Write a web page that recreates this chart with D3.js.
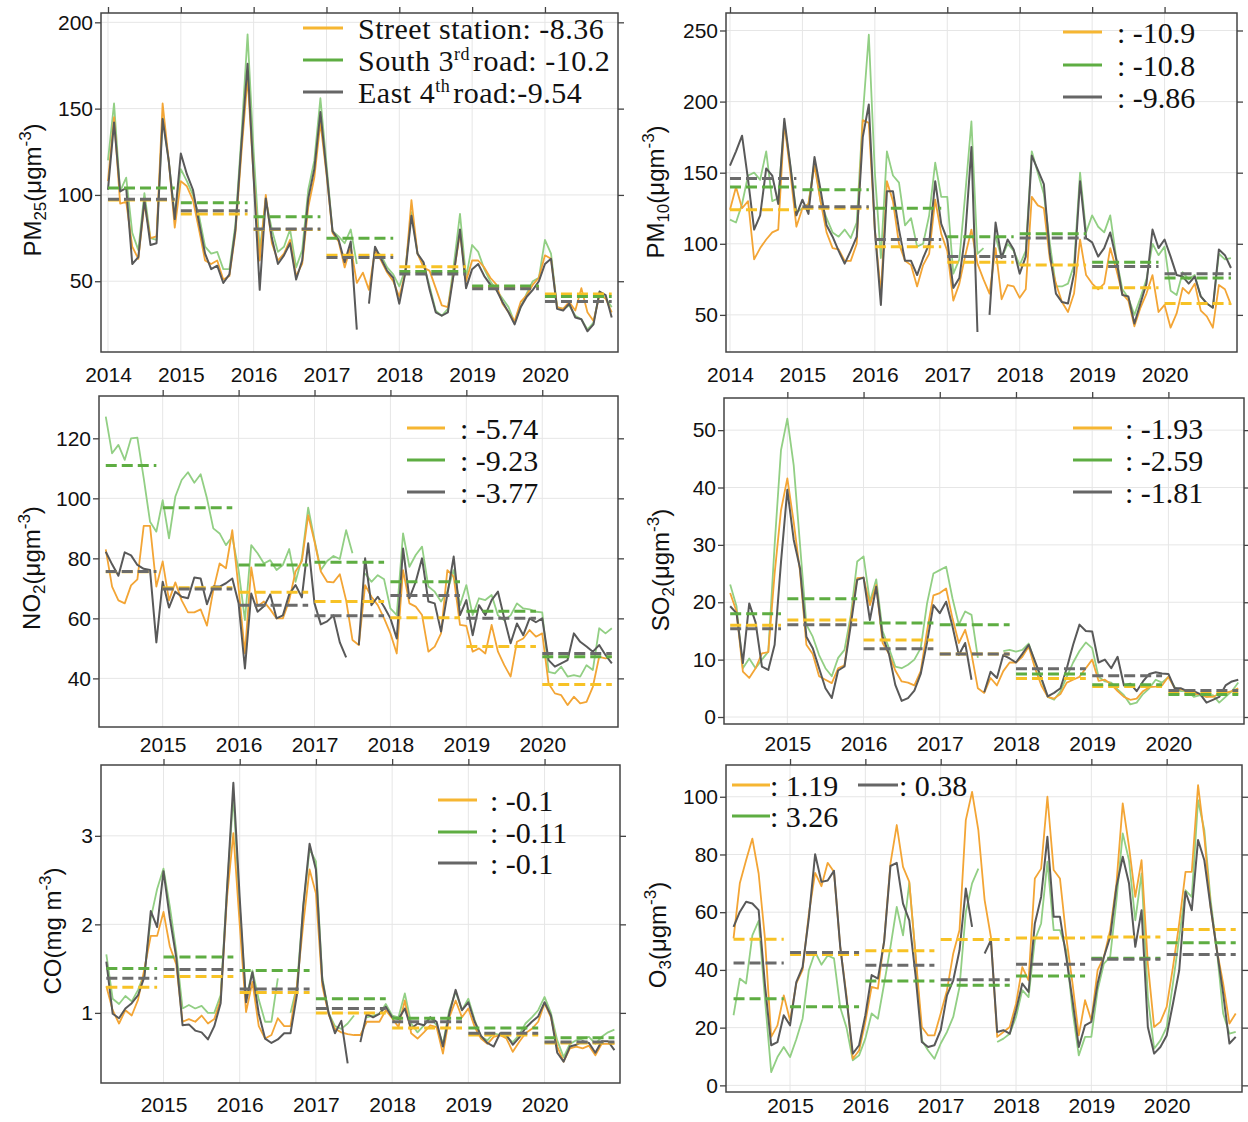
<!DOCTYPE html>
<html>
<head>
<meta charset="utf-8">
<script src="https://cdn.jsdelivr.net/npm/d3@7"></script>
<style>
body { margin: 0; background: #ffffff; }
svg { display: block; }
</style>
</head>
<body>
<script>
const width = 1248;
const height = 1122;

// x axis years (tick labels)
const yearsAll = [2014, 2015, 2016, 2017, 2018, 2019, 2020];
const yearsLate = [2015, 2016, 2017, 2018, 2019, 2020];
// PM2.5 / PM10 series start Jan 2014, the others start Apr 2014
const startJan = 2014;
const startApr = 2014 + 3 / 12;

// ---------------- PM2.5 (monthly, Jan 2014 - Dec 2020) ----------------
const pm25Street = [
  108, 145, 95, 96, 70, 63, 95, 75, 76, 153, 120, 81,
  108, 105, 97, 80, 62, 60, 62, 51, 53, 78, 125, 168,
  110, 62, 100, 72, 62, 66, 74, 53, 60, 93, 110, 142,
  112, 78, 73, 58, 70, 49, 55, 45, 68, 62, 55, 50,
  41, 55, 97, 66, 58, 56, 46, 36, 35, 55, 78, 50,
  62, 62, 58, 52, 48, 37, 32, 27, 38, 42, 48, 52,
  65, 63, 35, 34, 38, 33, 46, 32, 27, 42, 40, 32];
const pm25South = [
  120, 153, 102, 110, 78, 68, 101, 75, 74, 145, 120, 88,
  115, 108, 100, 88, 70, 66, 67, 57, 57, 83, 135, 193,
  125, 68, 97, 80, 67, 70, 80, 58, 68, 103, 120, 156,
  118, 79, 76, 72, 80, 60, null, null, 68, 65, 58, 54,
  47, 57, 90, 66, 60, 47, 33, 30, 34, 60, 89, 52,
  71, 67, 57, 50, 45, 40, 35, 26, 35, 43, 50, 52,
  74, 66, 35, 34, 36, 30, 28, 22, 26, 44, 40, 35];
const pm25East = [
  103, 142, 102, 104, 60, 64, 97, 71, 72, 144, 120, 86,
  124, 112, 103, 84, 66, 57, 59, 49, 54, 80, 130, 176,
  110, 45, 98, 75, 60, 65, 72, 51, 62, 98, 115, 148,
  114, 79, 74, 61, 73, 22, null, 37, 70, 63, 56, 52,
  37, 55, 88, 66, 61, 45, 32, 30, 32, 55, 80, 46,
  57, 60, 53, 48, 45, 38, 32, 25, 35, 41, 45, 50,
  60, 63, 34, 33, 37, 29, 28, 21, 25, 44, 42, 29];
const pm25MeanStreet = [97, 89, 80, 65, 58.4, 47, 42.6];
const pm25MeanSouth = [104, 95.5, 87.4, 74.9, 55.6, 47.3, 41.1];
const pm25MeanEast = [97.5, 90.9, 80.3, 63.7, 54.2, 45.7, 38.2];
const pm25Legend = ["Street station: -8.36", "South 3rd road: -10.2", "East 4th road:-9.54"];

// ---------------- PM10 (monthly, Jan 2014 - Dec 2020) ----------------
const pm10Street = [
  124, 140, 125, 130, 89, 97, 103, 108, 110, 185, 150, 112,
  125, 128, 155, 130, 108, 97, 96, 88, 88, 100, 187, 185,
  110, 65, 144, 130, 100, 88, 85, 70, 85, 93, 131, 107,
  95, 60, 72, 92, 110, 86, 75, 65, 97, 61, 71, 70,
  62, 68, 133, 127, 125, 89, 72, 59, 52, 65, 103, 78,
  72, 68, 72, 97, 82, 65, 60, 42, 55, 65, 78, 52,
  57, 41, 51, 69, 65, 72, 53, 49, 41, 71, 68, 57];
const pm10South = [
  117, 115, 128, 148, 150, 145, 165, 130, 132, 185, 155, 122,
  125, 128, 158, 130, 118, 108, 105, 110, 104, 115, 190, 247,
  150, 90, 165, 148, 143, 113, 118, 98, 100, 120, 157, 133,
  133, 79, 89, 136, 186, 93, 97, null, 105, 90, 100, 95,
  85, 95, 165, 150, 135, 100, 70, 70, 72, 85, 150, 108,
  120, 112, 108, 120, 90, 68, 62, 50, 62, 75, 100, 92,
  98, 67, 64, 80, 75, 78, 63, 58, 55, 93, 89, 90];
const pm10East = [
  155, 165, 176, 145, 110, 120, 153, 148, 128, 188, 155, 120,
  131, 121, 161, 138, 113, 105, 95, 86, 95, 105, 175, 198,
  110, 57, 137, 137, 110, 88, 88, 78, 90, 100, 144, 114,
  103, 69, 76, 107, 168, 38, null, 50, 115, 90, 103, 96,
  79, 91, 162, 152, 142, 93, 65, 59, 58, 79, 144, 104,
  101, 91, 97, 108, 89, 64, 63, 44, 58, 72, 110, 97,
  103, 91, 78, 77, 72, 77, 63, 58, 55, 96, 92, 83];
const pm10MeanStreet = [124, 125, 98, 87, 85, 69, 58];
const pm10MeanSouth = [140, 138, 125, 105, 107, 87, 76];
const pm10MeanEast = [146, 126, 103, 91, 104, 84, 79];
const pm10Legend = [": -10.9", ": -10.8", ": -9.86"];

// ---------------- NO2 (monthly, Apr 2014 - Dec 2020) ----------------
const no2Street = [
  83, 70.6, 66, 65, 71, 73, 90.8, 90.8, 70.6,
  79, 66, 72, 66, 62, 62, 63, 57.6, 69.4, 78.3, 76.7, 89.4,
  70, 48.3, 77, 64, 65.6, 63, 60, 60, 66, 75.6, 79, 94.4,
  85.6, 75.6, 72.2, 72, 74.7, 66, 52.8, 51.1, 71.1, 67.2, 64.4, 60,
  55, 48.3, 76.1, 65, 63.9, 61.1, 48.9, 50.6, 55, 76.1, 73.9, 57.8,
  57.5, 48.9, 50, 48.3, 57.8, 48.9, 44.4, 40.6, 52.2, 53.3, 56.1, 53.9,
  55, 38.3, 35, 34.4, 31.1, 33.9, 31.7, 32.2, 37.2, 47.2, 46.7, 47.2];
const no2South = [
  127.2, 115, 117.8, 112.8, 120, 120.2, 106.7, 92.2, 88.9,
  99.4, 86.7, 100.6, 106.1, 108.7, 105.2, 108, 100, 90, 88.3, 84.4, 87.2,
  76, 59.4, 84.4, 81.7, 78.3, 79.4, 76.1, 77.8, 83.1, 72.2, 80, 96.9,
  86.1, 76.1, 79.1, 80.8, 79.8, 89.4, 81.7, null, 75, 72.2, 74.4, 73,
  63.3, 61.1, 88.3, 77.2, 81.1, 83.9, 70.6, 68.9, 65.6, 69, 76.1, 64.4,
  71.1, 61.1, 66.7, 66.1, 67.8, 61, 59.4, 61, 65, 63.3, 63, 62.2,
  62, 42.2, 41.7, 43.9, 40.6, 41.1, 40.6, 44.4, 42.8, 56.7, 55, 56.7];
const no2East = [
  82.2, 78, 74.2, 82, 81, 77.8, 76.5, 76.1, 52,
  72.2, 63.6, 68.9, 67.2, 66.7, 73.6, 73.3, 64.7, 70.6, 70.6, 71.7, 73.3,
  65, 43.3, 68.3, 62.2, 64, 68, 60, 61, 68, 71.1, 67, 85,
  65, 58, 59, 61, 52, 47, null, 51.1, 80, 64.4, 67.2, 63.9,
  60, 53.3, 83.3, 66.7, 72.2, 80, 65.6, 65, 55.6, 68, 80.6, 61.1,
  66.1, 54.4, 64.4, 61.1, 66.1, 68.9, 60, 51.7, 58.3, 54.4, 60, 58.7,
  60, 46.1, 43.9, 45, 46.1, 55, 52.2, 50.6, 48.9, 51.1, 47.8, 45];
const no2MeanStreet = [75.5, 70.2, 68.7, 65.6, 60.2, 50.6, 38];
const no2MeanSouth = [110.9, 96.9, 77.8, 78.7, 72.2, 62.4, 47.2];
const no2MeanEast = [75.6, 69.8, 64.4, 60.9, 67.6, 60, 48.3];
const no2Legend = [": -5.74", ": -9.23", ": -3.77"];

// ---------------- SO2 (monthly, Apr 2014 - Dec 2020) ----------------
const so2Street = [
  21.6, 18.4, 7.9, 6.8, 8.5, 11.1, 11.3, 25, 36,
  41.6, 34, 25.3, 12.6, 11, 7.1, 6.5, 5.9, 8.5, 9, 17.2, 24.2,
  24.3, 19.5, 23, 12.9, 11, 8.1, 6.2, 6, 5.5, 8, 15, 21.2,
  21.6, 22.4, 17.2, 12.9, 15.2, 11, 5, 4.2, 6.8, 5.5, 8, 9.5,
  9.5, 10.5, 12.3, 8.5, 5.5, 3.5, 3.2, 4, 6, 6.5, 7, 8.5,
  10, 6.3, 6.5, 5.7, 4.5, 3.5, 3, 3.2, 4.5, 5.2, 5.3, 5.5,
  7, 5, 4.8, 4.5, 4, 4, 3.5, 3.5, 4, 4.2, 4.5, 5];
const so2South = [
  23.1, 19.3, 8.5, 10.2, 8.5, 10, 11.4, 30, 46.5,
  52, 43.9, 30, 16.1, 14, 10.8, 8.5, 7.1, 10.3, 11.7, 17.8, 27.1,
  28, 20.1, 24, 15, 12, 8.8, 8.5, 9.1, 10, 12, 19.8, 25,
  25.6, 26.2, 20.7, 16.1, 18.4, 17.8, 10.3, null, null, null, 11.5, 11.7,
  11.4, 11.7, 12.8, 9.5, 6.5, 3.5, 3, 4.5, 7, 9.5, 11.5, 13,
  12, 7, 6.2, 6, 4.8, 3.8, 2.2, 2.5, 4, 5, 6.5, 6,
  7, 5.2, 4.5, 4.5, 3.5, 3.8, 3.5, 3.8, 2.5, 3.5, 4.5, 6];
const so2East = [
  19.3, 18.1, 9.4, 19.8, 16.5, 8.8, 8.2, 12.6, 27,
  39.6, 30.9, 25.9, 14, 12, 8.5, 5, 3.3, 8.1, 8.8, 16.1, 23.9,
  24.3, 16.9, 22.7, 14, 11, 5.6, 2.8, 3.3, 4.6, 7.5, 13, 19.5,
  18.1, 20.1, 15.8, 10.8, 12.9, 6.5, null, 4.3, 7.9, 6.8, 10.8, 10.2,
  9.5, 11, 12.6, 9.7, 6.8, 3.6, 4.2, 5, 8.5, 12.6, 16.1, 15,
  14.9, 9.5, 10, 8.5, 10.5, 5.5, 5.8, 4.5, 6.2, 7.5, 7.8, 7.6,
  7.5, 5, 5, 4.5, 4.5, 4, 2.5, 3, 3.5, 5.5, 6.2, 6.5];
const so2MeanStreet = [16, 16.9, 13.4, 11, 6.7, 5.3, 4.2];
const so2MeanSouth = [18, 20.6, 16.4, 16.1, 7.5, 5.6, 3.9];
const so2MeanEast = [15.4, 16.1, 11.9, 11, 8.4, 7.2, 4.6];
const so2Legend = [": -1.93", ": -2.59", ": -1.81"];

// ---------------- CO (monthly, Apr 2014 - Dec 2020) ----------------
const coStreet = [
  1.3, 1.03, 0.88, 1.03, 0.97, 1.15, 1.5, 1.87, 1.87,
  2.14, 1.75, 1.55, 0.9, 0.93, 0.9, 0.97, 0.88, 0.93, 1.15, 2.3, 3.03,
  2.0, 1.01, 1.35, 0.85, 0.71, 0.75, 0.94, 0.85, 0.85, 1.3, 2.0, 2.62,
  2.35, 1.31, 0.98, 0.82, 0.78, 0.76, 0.75, 0.75, 0.9, 0.9, 0.9, 1.03,
  0.94, 0.84, 1.14, 0.77, 0.71, 0.78, 0.86, 0.84, 0.54, 0.95, 1.14, 0.95,
  1.05, 0.84, 0.71, 0.65, 0.73, 0.75, 0.71, 0.56, 0.67, 0.77, 0.82, 0.9,
  1.11, 0.95, 0.62, 0.45, 0.6, 0.62, 0.6, 0.63, 0.52, 0.65, 0.65, 0.65];
const coSouth = [
  1.66, 1.16, 1.1, 1.19, 1.13, 1.26, 1.45, 2.07, 2.4,
  2.63, 2.2, 1.7, 1.05, 1.09, 1.05, 1.08, 1.0, 1.0, 1.2, 2.4, 3.45,
  2.2, 1.15, 1.48, 1.15, 0.9, 0.9, 1.39, null, 1.0, 1.3, 2.2, 2.85,
  2.71, 1.4, 1.0, 0.85, 0.82, 0.88, 0.97, null, 0.95, 0.97, 0.99, 1.1,
  0.97, 0.95, 1.22, 0.88, 0.78, 0.86, 0.95, 0.86, 0.65, 1.03, 1.24, 1.03,
  1.16, 0.92, 0.73, 0.69, 0.77, 0.75, 0.73, 0.67, 0.75, 0.88, 0.95, 1.03,
  1.18, 1.0, 0.69, 0.5, 0.65, 0.69, 0.71, 0.73, 0.65, 0.73, 0.78, 0.81];
const coEast = [
  1.58, 0.99, 0.94, 1.05, 1.11, 1.2, 1.41, 2.15, 1.97,
  2.6, 2.07, 1.63, 0.86, 0.87, 0.8, 0.78, 0.7, 0.85, 1.11, 2.39, 3.6,
  2.3, 1.12, 1.46, 0.99, 0.71, 0.66, 0.7, 0.77, 0.77, 1.2, 2.2, 2.91,
  2.62, 1.37, 1.0, 0.77, 0.91, 0.43, null, 0.67, 0.99, 0.95, 0.99, 1.07,
  0.95, 0.93, 1.05, 0.82, 0.88, 0.86, 0.95, 0.9, 0.62, 0.99, 1.26, 1.03,
  1.12, 0.9, 0.74, 0.66, 0.62, 0.77, 0.75, 0.64, 0.72, 0.83, 0.9, 0.96,
  1.12, 0.97, 0.55, 0.45, 0.62, 0.64, 0.68, 0.66, 0.55, 0.68, 0.68, 0.58];
const coMeanStreet = [1.29, 1.41, 1.23, 1.0, 0.83, 0.75, 0.66];
const coMeanSouth = [1.5, 1.63, 1.48, 1.16, 0.94, 0.83, 0.72];
const coMeanEast = [1.39, 1.49, 1.27, 1.05, 0.9, 0.77, 0.67];
const coLegend = [": -0.1", ": -0.11", ": -0.1"];

// ---------------- O3 (monthly, Apr 2014 - Dec 2020) ----------------
const o3Street = [
  50.9, 70, 78, 85.5, 73.4, 51, 16.8, 20.8, 31.2,
  22.5, 35.3, 40, 59.5, 73.6, 69, 77.1, 74, 48, 31, 9.2, 12.1,
  22, 34.1, 33.5, 50.3, 76.9, 90.2, 75.7, 70.5, 45, 20.2, 17.3, 17.3,
  24.9, 32.9, 45.7, 53.8, 91.9, 101.7, 88.4, 64.2, 51.4, 16.8, 18.5, 20.2,
  28.3, 41, 36.4, 71.7, 75.1, 100, 74.6, 71.7, 51.4, 35.3, 17.3, 29.5,
  22.5, 39.9, 44.5, 53.8, 70, 97.7, 82.7, 65.3, 78, 42.2, 20.2, 22,
  27.2, 41, 56.1, 74, 74, 104, 86.1, 61.8, 46.8, 35.3, 21.4, 24.9];
const o3South = [
  24.3, 37, 35.3, 52, 57, 30, 4.6, 9.8, 13.3,
  9.8, 16, 23.1, 39.9, 46.2, 41.8, 45, 44, 27, 20, 8.7, 10.4,
  16.2, 24.9, 23.1, 35.3, 48, 61.8, 52, 70.2, 45, 15.6, 12.1, 9.2,
  14.5, 18.5, 23.7, 34.1, 60, 70, 75.1, null, null, 15, 16.2, 17.9,
  23.7, 33, 30.6, 50.3, 56.1, 77.5, 53.8, 53.8, 46.8, 26, 10.4, 16.8,
  16.8, 33, 42.2, 44.5, 64.2, 87.3, 78, 57.2, 73.4, 30.6, 12.7, 15.6,
  20.2, 35.3, 51.4, 67.6, 65.3, 98.8, 88.4, 64.2, 46.8, 24.9, 17.9, 18.5];
const o3East = [
  54.9, 60.1, 63.6, 63, 60.7, 35, 13.9, 15, 24.3,
  20.8, 35.8, 41, 58, 80.1, 70.5, 71, 74.3, 48, 30, 11, 13.9,
  24.3, 38.2, 37, 50, 76, 77.1, 63, 57.2, 38, 15, 13.3, 13.9,
  19.1, 31.2, 36.4, 46.8, 68.2, 54.9, null, 45.7, 50.3, 18.5, 19.1, 17.9,
  26, 35.3, 32.4, 56.1, 65.3, 86.1, 58.4, 58.4, 44.5, 29.5, 13.3, 20.8,
  22, 35.3, 44.5, 51.4, 68.8, 79.2, 70, 48, 60.7, 20.2, 11, 13.3,
  17.3, 28.3, 39.9, 67.1, 60.7, 85, 78, 61.8, 46.8, 31.8, 14.5, 16.8];
const o3MeanStreet = [50.6, 45.3, 46.6, 50.5, 51.1, 51.4, 54];
const o3MeanSouth = [30, 27.2, 36.2, 34.7, 37.9, 44, 49.4];
const o3MeanEast = [42.4, 46, 41.6, 36.6, 42, 43.7, 45.3];
const o3Legend = [": 1.19", ": 3.26", ": 0.38"];

//COLORS
//lines: orange (street), light green (south 3rd), dark gray (east 4th)
const lineColors = ["#f3a535", "#92cf84", "#595959"];
const dashColors = ["#f7c226", "#5ead42", "#6b6b6b"];
const legendColors = ["#f6b632", "#5ead42", "#666666"];

const svg = d3.select("body").append("svg")
    .attr("width", width)
    .attr("height", height);

// panel layouts (series order: street, south, east)
const panels = [
  { start: startJan, xDomain: [2013.904, 2021.003], box: [101, 618, 13, 352], yDomain: [9, 205.4],
    yTicks: [50, 100, 150, 200], xTicks: yearsAll, xPad: 15,
    series: [pm25Street, pm25South, pm25East], means: [pm25MeanStreet, pm25MeanSouth, pm25MeanEast],
    legend: pm25Legend, legendPos: [[303, 343, 28, 358], [303, 343, 60, 358], [303, 343, 92, 358]], legendSpacing: 0.5,
    label: [["PM", 0], ["25", 1], ["(μgm", 0], ["-3", 2], [")", 0]], labelPos: [41, 190] },
  { start: startJan, xDomain: [2013.945, 2021.0], box: [726, 1237, 13, 352], yDomain: [23.9, 262.3],
    yTicks: [50, 100, 150, 200, 250], xTicks: yearsAll, xPad: 15,
    series: [pm10Street, pm10South, pm10East], means: [pm10MeanStreet, pm10MeanSouth, pm10MeanEast],
    legend: pm10Legend, legendPos: [[1063, 1102, 32, 1117], [1063, 1102, 65, 1117], [1063, 1102, 97, 1117]], legendSpacing: 0,
    label: [["PM", 0], ["10", 1], ["(μgm", 0], ["-3", 2], [")", 0]], labelPos: [664, 192] },
  { start: startApr, xDomain: [2014.161, 2020.998], box: [99, 618, 396, 727], yDomain: [23.8, 134.1],
    yTicks: [40, 60, 80, 100, 120], xTicks: yearsLate, xPad: 10,
    series: [no2Street, no2South, no2East], means: [no2MeanStreet, no2MeanSouth, no2MeanEast],
    legend: no2Legend, legendPos: [[407, 445, 428, 460], [407, 445, 460, 460], [407, 445, 492, 460]], legendSpacing: 0,
    label: [["NO", 0], ["2", 1], ["(μgm", 0], ["-3", 2], [")", 0]], labelPos: [40, 568] },
  { start: startApr, xDomain: [2014.169, 2020.992], box: [724, 1244, 398, 724], yDomain: [-1.22, 55.6],
    yTicks: [0, 10, 20, 30, 40, 50], xTicks: yearsLate, xPad: 12,
    series: [so2Street, so2South, so2East], means: [so2MeanStreet, so2MeanSouth, so2MeanEast],
    legend: so2Legend, legendPos: [[1073, 1112, 428, 1125], [1073, 1112, 460, 1125], [1073, 1112, 492, 1125]], legendSpacing: 0,
    label: [["SO", 0], ["2", 1], ["(μgm", 0], ["-3", 2], [")", 0]], labelPos: [669, 570] },
  { start: startApr, xDomain: [2014.18, 2020.99], box: [101, 620, 765, 1083], yDomain: [0.208, 3.8],
    yTicks: [1, 2, 3], xTicks: yearsLate, xPad: 14,
    series: [coStreet, coSouth, coEast], means: [coMeanStreet, coMeanSouth, coMeanEast],
    legend: coLegend, legendPos: [[438, 477, 800, 490], [438, 477, 832, 490], [438, 477, 863, 490]], legendSpacing: 0,
    label: [["CO(mg m", 0], ["-3", 2], [")", 0]], labelPos: [61, 931] },
  { start: startApr, xDomain: [2014.15, 2021.0], box: [726, 1242, 765, 1092], yDomain: [-2.3, 111],
    yTicks: [0, 20, 40, 60, 80, 100], xTicks: yearsLate, xPad: 6,
    series: [o3Street, o3South, o3East], means: [o3MeanStreet, o3MeanSouth, o3MeanEast],
    legend: o3Legend, legendPos: [[732, 770, 785, 770], [732, 770, 816, 770], [858, 898, 785, 899]], legendSpacing: 0,
    label: [["O", 0], ["3", 1], ["(μgm", 0], ["-3", 2], [")", 0]], labelPos: [666, 935] }
];

function drawPanel(p) {
  const [left, right, top, bottom] = p.box;
  const x = d3.scaleLinear().domain(p.xDomain).range([left, right]);
  const y = d3.scaleLinear().domain(p.yDomain).range([bottom, top]);
  const g = svg.append("g");

  //Grid lines
  g.selectAll(".vgrid").data(p.xTicks).join("line")
    .attr("x1", d => x(d)).attr("x2", d => x(d))
    .attr("y1", top).attr("y2", bottom)
    .attr("stroke", "#e6e6e6").attr("stroke-width", 1);
  g.selectAll(".hgrid").data(p.yTicks).join("line")
    .attr("x1", left).attr("x2", right)
    .attr("y1", d => y(d)).attr("y2", d => y(d))
    .attr("stroke", "#e6e6e6").attr("stroke-width", 1);

  //Axes (ticks outward on all four sides, labels left and bottom)
  const axLeft = g.append("g").attr("transform", `translate(${left},0)`)
    .call(d3.axisLeft(y).tickValues(p.yTicks).tickSize(6).tickPadding(2).tickFormat(d3.format("d")));
  const axRight = g.append("g").attr("transform", `translate(${right},0)`)
    .call(d3.axisRight(y).tickValues(p.yTicks).tickSize(6).tickFormat(""));
  const axTop = g.append("g").attr("transform", `translate(0,${top})`)
    .call(d3.axisTop(x).tickValues(p.xTicks).tickSize(6).tickFormat(""));
  const axBottom = g.append("g").attr("transform", `translate(0,${bottom})`)
    .call(d3.axisBottom(x).tickValues(p.xTicks).tickSize(0).tickPadding(p.xPad).tickFormat(d3.format("d")));
  [axLeft, axRight, axTop, axBottom].forEach(a => {
    a.select(".domain").remove();
    a.selectAll(".tick line").attr("stroke", "#444").attr("stroke-width", 1.3);
    a.selectAll(".tick text")
      .style("font-family", "'Liberation Sans', Arial, sans-serif")
      .style("font-size", "21px")
      .attr("fill", "#111");
  });

  //Monthly lines (south, street, east on top)
  const line = d3.line()
    .defined(d => d != null)
    .x((d, i) => x(p.start + i / 12))
    .y(d => y(d));
  [1, 0, 2].forEach(s => {
    g.append("path")
      .datum(p.series[s])
      .attr("d", line)
      .attr("fill", "none")
      .attr("stroke", lineColors[s])
      .attr("stroke-width", s === 2 ? 2 : 1.8)
      .attr("stroke-linejoin", "round");
  });

  //Annual means (dashed)
  [0, 1, 2].forEach(s => {
    p.means[s].forEach((m, j) => {
      const yr = 2014 + j;
      const x0 = Math.max(p.start, yr);
      g.append("line")
        .attr("x1", x(x0)).attr("x2", x(yr + 11 / 12))
        .attr("y1", y(m)).attr("y2", y(m))
        .attr("stroke", dashColors[s])
        .attr("stroke-width", 3)
        .attr("stroke-dasharray", "11,5");
    });
  });

  //Frame
  g.append("rect")
    .attr("x", left).attr("y", top)
    .attr("width", right - left).attr("height", bottom - top)
    .attr("fill", "none")
    .attr("stroke", "#444")
    .attr("stroke-width", 1.5);

  //Legend
  p.legend.forEach((txt, i) => {
    const [lx1, lx2, ly, tx] = p.legendPos[i];
    g.append("line")
      .attr("x1", lx1).attr("x2", lx2)
      .attr("y1", ly).attr("y2", ly)
      .attr("stroke", legendColors[i])
      .attr("stroke-width", 3);
    const t = g.append("text")
      .attr("x", tx).attr("y", ly + 10.5)
      .style("font-family", "'Liberation Serif', 'Times New Roman', serif")
      .style("font-size", "30px")
      .style("letter-spacing", p.legendSpacing + "px")
      .attr("fill", "#111");
    // superscript ordinal suffixes (3rd, 4th), set tight against the next word
    const parts = txt.split(/(\d)(rd|th)\s?/);
    if (parts.length === 1) {
      t.text(txt);
    } else {
      t.append("tspan").text(parts[0] + parts[1]);
      t.append("tspan").text(parts[2]).attr("dy", -11).style("font-size", "18px");
      t.append("tspan").text(parts[3]).attr("dy", 11).attr("dx", 3);
    }
  });

  //Axis title (rotated)
  const lab = g.append("text")
    .attr("transform", `translate(${p.labelPos[0]},${p.labelPos[1]}) rotate(-90)`)
    .attr("text-anchor", "middle")
    .style("font-family", "'Liberation Sans', Arial, sans-serif")
    .style("font-size", "24px")
    .attr("fill", "#111");
  let shift = 0;
  p.label.forEach(([s, kind]) => {
    const target = kind === 1 ? 5 : kind === 2 ? -10 : 0;
    lab.append("tspan")
      .text(s)
      .attr("dy", target - shift)
      .style("font-size", kind === 0 ? "24px" : "17px");
    shift = target;
  });
}

panels.forEach(drawPanel);
</script>
</body>
</html>
